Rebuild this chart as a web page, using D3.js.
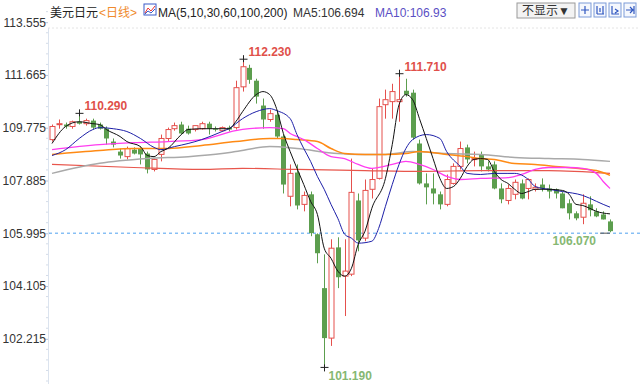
<!DOCTYPE html>
<html>
<head>
<meta charset="utf-8">
<script src="https://cdn.jsdelivr.net/npm/d3@7"></script>
<style>
  body { margin: 0; background: #fff; }
  svg text { font-family: Arial, "Liberation Sans", "Noto Sans CJK SC", sans-serif; }
</style>
</head>
<body>
<div id="plot"></div>
<script>
// daily candles, USD/JPY
var opens = [109.35,109.89,109.89,109.82,109.99,109.92,110.03,109.89,109.74,109.28,108.92,108.74,108.99,109.03,108.85,108.28,108.82,109.39,109.74,109.89,109.74,109.71,109.74,109.92,109.74,109.67,109.78,109.78,111.24,111.92,111.46,110.57,110.07,110.24,109.46,107.32,108.17,107.03,107.39,105.96,104.03,102.24,105.49,104.46,104.53,107.17,105.82,107.57,107.96,110.60,110.71,110.71,111.10,111.03,109.21,107.78,107.60,107.39,107.03,107.78,108.39,109.07,108.64,108.82,108.39,108.46,107.60,107.17,107.39,107.78,107.60,107.57,107.74,107.60,107.57,107.42,107.07,106.71,106.57,107.03,106.78,106.67,106.42];
var highs = [109.89,110.07,109.96,110.03,110.29,110.10,110.10,109.96,109.82,109.39,109.03,109.10,109.07,109.10,108.92,108.67,109.53,109.78,109.96,109.99,109.85,109.85,109.99,109.99,109.82,109.82,109.85,111.46,112.23,112.03,111.53,110.82,110.42,110.35,109.53,108.46,108.46,107.49,107.49,105.99,105.24,105.78,105.85,105.78,108.67,107.42,107.92,108.32,110.82,111.14,111.35,111.71,111.53,111.14,109.35,108.14,108.14,107.49,108.10,108.50,109.28,109.17,108.92,108.92,108.57,108.57,107.78,107.74,107.92,107.92,107.96,107.78,107.96,107.74,107.60,107.49,107.21,106.78,107.39,107.32,106.89,106.78,106.49];
var lows = [109.28,109.74,109.74,109.74,109.89,109.85,109.71,109.71,109.17,109.07,108.67,108.64,108.82,108.46,108.14,108.21,108.57,109.28,109.67,109.53,109.53,109.64,109.71,109.53,109.64,109.64,109.64,109.71,111.07,111.35,110.64,109.74,109.99,109.39,107.42,106.96,106.85,106.78,105.89,104.92,101.19,101.96,104.03,103.03,104.46,105.35,105.71,107.24,107.92,110.10,110.10,109.99,110.89,109.35,107.74,107.03,107.03,106.85,106.96,107.74,108.28,108.50,108.39,108.21,108.21,107.57,107.07,107.03,107.21,107.21,107.21,107.49,107.49,107.24,107.24,106.89,106.49,106.46,106.32,106.60,106.57,106.49,106.03];
var closes = [109.82,109.92,109.82,109.99,109.92,110.03,109.78,109.74,109.39,109.17,108.78,109.03,108.85,108.82,108.28,108.64,109.39,109.71,109.85,109.57,109.57,109.85,109.92,109.74,109.71,109.78,109.71,111.21,111.96,111.49,110.89,110.07,110.28,109.46,107.74,108.14,106.99,107.35,106.00,105.28,102.24,105.46,104.42,104.64,107.46,105.74,107.53,107.92,110.53,110.78,111.07,110.78,110.96,109.42,107.78,107.64,107.42,107.03,107.92,108.39,109.03,108.64,108.67,108.39,108.28,107.60,107.21,107.60,107.82,107.24,107.92,107.64,107.60,107.49,107.42,106.89,106.71,106.53,107.07,106.82,106.60,106.49,106.07];

// moving averages: [candle index, value]
var ma5 = [[0,109.21],[2,109.82],[4,109.99],[6,109.92],[7,109.89],[8,109.71],[10,109.46],[11,109.28],[13,109.10],[14,108.78],[15,108.74],[16,108.92],[17,109.03],[19,109.53],[20,109.71],[22,109.74],[24,109.74],[26,109.74],[27,109.99],[28,110.35],[30,110.96],[31,111.07],[32,110.96],[33,110.46],[34,109.57],[35,108.92],[36,108.32],[37,107.74],[38,107.14],[39,106.67],[40,105.46],[41,105.10],[42,104.64],[43,104.46],[44,104.74],[45,105.60],[46,106.07],[47,106.89],[49,107.96],[50,109.17],[51,110.60],[52,110.96],[53,110.78],[54,110.10],[55,109.39],[56,108.67],[57,107.96],[58,107.60],[59,107.67],[60,107.96],[61,108.39],[62,108.64],[63,108.67],[64,108.64],[65,108.21],[66,107.92],[67,107.78],[68,107.57],[69,107.42],[70,107.49],[71,107.57],[73,107.57],[75,107.53],[76,107.39],[77,107.03],[78,106.99],[79,106.89],[80,106.78],[82,106.69]];
var ma10 = [[0,108.78],[2,108.99],[4,109.39],[6,109.71],[7,109.78],[9,109.74],[11,109.64],[13,109.39],[15,109.07],[16,108.99],[18,109.10],[20,109.21],[22,109.35],[25,109.64],[26,109.74],[28,110.10],[30,110.35],[32,110.46],[33,110.39],[35,110.10],[36,109.53],[37,109.03],[38,108.57],[39,108.03],[40,107.57],[41,107.03],[42,106.53],[43,105.96],[44,105.82],[45,105.64],[47,105.71],[48,106.17],[49,106.96],[50,107.74],[51,108.46],[52,109.03],[53,109.35],[55,109.53],[57,109.39],[58,108.92],[60,108.39],[61,108.14],[63,108.10],[65,108.14],[67,108.14],[68,108.14],[70,107.92],[71,107.67],[73,107.57],[75,107.49],[78,107.35],[80,107.14],[81,107.03],[82,106.93]];
var ma30 = [[0,108.99],[7,109.17],[12,109.24],[17,109.28],[22,109.35],[27,109.67],[29,109.74],[32,109.78],[34,109.74],[35,109.57],[36,109.46],[37,109.35],[39,109.03],[41,108.74],[43,108.67],[45,108.46],[47,108.32],[50,108.46],[52,108.57],[54,108.46],[56,108.28],[58,108.03],[60,107.92],[63,107.96],[67,107.99],[69,108.10],[71,108.28],[73,108.35],[76,108.35],[78,108.32],[80,108.14],[81,107.85],[82,107.60]];
var ma60 = [[0,108.82],[7,108.96],[12,109.03],[17,109.03],[22,109.14],[27,109.28],[32,109.39],[34,109.39],[36,109.35],[39,109.28],[41,109.03],[43,108.85],[46,108.82],[49,108.82],[52,108.85],[54,108.92],[58,108.82],[61,108.74],[63,108.67],[65,108.64],[68,108.49],[71,108.46],[74,108.39],[77,108.32],[80,108.24],[82,108.07]];
var ma100 = [[0,108.14],[7,108.50],[14,108.67],[20,108.74],[25,108.85],[27,108.92],[32,109.10],[36,109.03],[42,108.85],[45,108.82],[49,108.82],[53,108.92],[58,108.85],[63,108.82],[68,108.71],[73,108.67],[78,108.64],[82,108.57]];
var ma200 = [[0,108.46],[12,108.35],[22,108.28],[28,108.32],[36,108.28],[46,108.24],[54,108.21],[63,108.24],[73,108.24],[82,108.14]];

var yTicks = [113.555, 111.665, 109.775, 107.885, 105.995, 104.105, 102.215];
var highMarks = [[4, 110.29], [28, 112.23], [51, 111.71]];
var lowMarks = [[40, 101.19]];
var lastPrice = 106.07;

var width = 640, height = 389;
var upColor = "#e5504d", downColor = "#5c9e4e";

var svg = d3.select("#plot").append("svg")
    .attr("width", width)
    .attr("height", height);

var x = d3.scaleLinear().domain([0, closes.length - 1]).range([52, 610]);
var y = d3.scaleLinear().domain([102.215, 113.555]).range([338.8, 22.2]);

// header
svg.append("line")
    .attr("x1", 48).attr("x2", width).attr("y1", 28).attr("y2", 28)
    .attr("stroke", "#e4e4e4").attr("stroke-dasharray", "2,2");

var head = svg.append("text").attr("x", 50).attr("y", 17).style("font-size", "12px");
head.append("tspan").attr("fill", "#222").text("美元日元");
head.append("tspan").attr("fill", "#f08a2c").attr("dx", 1).text("<日线>");

var ico = svg.append("g").attr("transform", "translate(144,4)");
ico.append("rect").attr("width", 12).attr("height", 11).attr("fill", "#fff").attr("stroke", "#3b5bc8");
ico.append("path").attr("d", "M1,9 L4,4 L7,7 L11,2").attr("fill", "none").attr("stroke", "#e33");
ico.append("path").attr("d", "M1,10 L4,7 L7,9 L11,5").attr("fill", "none").attr("stroke", "#3b5bc8");

svg.append("text").attr("x", 158).attr("y", 17).attr("fill", "#222").style("font-size", "12px")
    .text("MA(5,10,30,60,100,200)");
svg.append("text").attr("x", 293).attr("y", 17).attr("fill", "#333").style("font-size", "12px")
    .text("MA5:106.694");
svg.append("text").attr("x", 375).attr("y", 17).attr("fill", "#5a4fc4").style("font-size", "12px")
    .text("MA10:106.93");

// buttons top right
var btn = svg.append("g").attr("transform", "translate(517,3)");
btn.append("rect").attr("width", 58).attr("height", 15).attr("fill", "#f3f3f3").attr("stroke", "#9a9a9a");
btn.append("text").attr("x", 5).attr("y", 12).attr("fill", "#333").style("font-size", "12px").text("不显示▼");
[579, 594, 609, 624].forEach(function (bx, k) {
    var g = svg.append("g").attr("transform", "translate(" + bx + ",3)");
    g.append("rect").attr("width", 12).attr("height", 14).attr("fill", "#f4f7fd").attr("stroke", "#7c9bd8");
    var p = ["M6,3 V11 M2,7 H10", "M3,3 V11 M9,3 V11 M3,11 H10 M6,5 V9",
             "M3,3 V11 H10 M6,6 L9,8 L6,10", "M2,7 H8 M6,4 L9,7 L6,10 M10,3 V11"][k];
    g.append("path").attr("d", p).attr("fill", "none").attr("stroke", "#2f57c0").attr("stroke-width", 1.2);
});

// y axis
var yAxis = d3.axisLeft(y).tickValues(yTicks).tickSize(3).tickFormat(d3.format(".3f"));
var yAxisDraw = svg.append("g")
    .attr("transform", "translate(48,0)")
    .call(yAxis);
yAxisDraw.select(".domain").remove();
yAxisDraw.selectAll(".tick line").attr("stroke", "#b9c6d8");
yAxisDraw.selectAll(".tick text")
    .attr("x", -2)
    .attr("fill", "#333")
    .style("font-size", "12px")
    .style("font-family", "Arial, 'Liberation Sans', sans-serif");

var minor = [];
yTicks.forEach(function (t) {
    for (var k = 1; k < 5; k++) minor.push(t - k * 0.378);
});
minor.push(113.555 + 0.378, 102.215 - 0.378 * 5, 102.215 - 0.378 * 6);
svg.append("g").selectAll("line").data(minor).enter().append("line")
    .attr("x1", 46).attr("x2", 48)
    .attr("y1", function (d) { return y(d); }).attr("y2", function (d) { return y(d); })
    .attr("stroke", "#d4dce8");
svg.append("line")
    .attr("x1", 48.5).attr("x2", 48.5).attr("y1", 28).attr("y2", 384)
    .attr("stroke", "#dbe3ee");

// last price line
svg.append("line")
    .attr("x1", 49).attr("x2", width)
    .attr("y1", y(lastPrice) + 2).attr("y2", y(lastPrice) + 2)
    .attr("stroke", "#4ea1ef").attr("stroke-dasharray", "3,3");

// moving averages
var maLine = d3.line()
    .curve(d3.curveMonotoneX)
    .x(function (d) { return x(d[0]); })
    .y(function (d) { return y(d[1]); });

var maSeries = [
    { data: ma200, color: "#e8564c", w: 1.2 },
    { data: ma100, color: "#a9a9a9", w: 1.5 },
    { data: ma60, color: "#ff8a14", w: 1.5 },
    { data: ma30, color: "#ff3cf0", w: 1.3 },
    { data: ma10, color: "#1d1fa8", w: 1 },
    { data: ma5, color: "#111", w: 1 }
];

var candles = closes.map(function (c, i) {
    return { i: i, o: opens[i], h: highs[i], l: lows[i], c: c };
});

var cg = svg.append("g");
cg.selectAll("line").data(candles).enter().append("line")
    .attr("x1", function (d) { return Math.round(x(d.i)) + 0.5; })
    .attr("x2", function (d) { return Math.round(x(d.i)) + 0.5; })
    .attr("y1", function (d) { return y(d.h); })
    .attr("y2", function (d) { return y(d.l); })
    .attr("stroke", function (d) { return d.c >= d.o ? upColor : downColor; });

cg.selectAll("rect").data(candles).enter().append("rect")
    .attr("x", function (d) { return Math.round(x(d.i)) - 2; })
    .attr("width", 5)
    .attr("y", function (d) { return y(Math.max(d.o, d.c)); })
    .attr("height", function (d) { return Math.max(1, Math.abs(y(d.o) - y(d.c))); })
    .attr("fill", function (d) { return d.c >= d.o ? "#fff" : downColor; })
    .attr("stroke", function (d) { return d.c >= d.o ? upColor : downColor; })
    .attr("stroke-width", function (d) { return d.c >= d.o ? 1 : 0; });

svg.append("g").selectAll("path").data(maSeries).enter().append("path")
    .attr("d", function (d) { return maLine(d.data); })
    .attr("fill", "none")
    .attr("stroke", function (d) { return d.color; })
    .attr("stroke-width", function (d) { return d.w; });

// high / low markers
highMarks.forEach(function (m) {
    var mx = Math.round(x(m[0])) + 0.5, my = y(m[1]);
    svg.append("path").attr("d", "M" + (mx - 4) + "," + my + "H" + (mx + 4) + "M" + mx + "," + (my - 4) + "V" + (my + 3))
        .attr("stroke", "#222");
    svg.append("text").attr("x", mx + 5).attr("y", my - 3)
        .attr("fill", "#e0504a").style("font-size", "12px").style("font-weight", "bold")
        .text(d3.format(".3f")(m[1]));
});
lowMarks.forEach(function (m) {
    var mx = Math.round(x(m[0])) + 0.5, my = y(m[1]);
    svg.append("path").attr("d", "M" + (mx - 4) + "," + my + "H" + (mx + 4) + "M" + mx + "," + (my - 3) + "V" + (my + 4))
        .attr("stroke", "#222");
    svg.append("text").attr("x", mx + 4).attr("y", my + 13)
        .attr("fill", "#86b872").style("font-size", "12px").style("font-weight", "bold")
        .text(d3.format(".3f")(m[1]));
});

var lx = x(closes.length - 1);
svg.append("line").attr("x1", lx - 10).attr("x2", lx).attr("y1", y(lastPrice) + 2).attr("y2", y(lastPrice) + 2)
    .attr("stroke", "#555");
svg.append("text").attr("x", lx - 14).attr("y", y(lastPrice) + 14)
    .attr("text-anchor", "end")
    .attr("fill", "#86b872").style("font-size", "12px").style("font-weight", "bold")
    .text(d3.format(".3f")(lastPrice));
</script>
</body>
</html>
